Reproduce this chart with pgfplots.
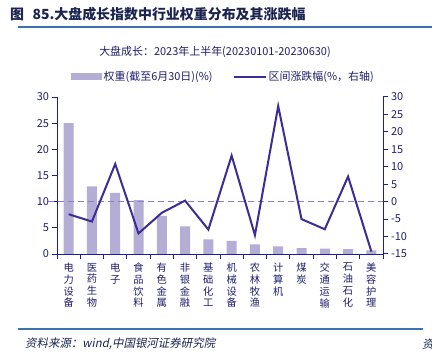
\documentclass[border=0pt]{standalone}
\usepackage{pgfplots}
\pgfplotsset{compat=1.18}
\usepackage{pgfplotstable}
\usepackage{fontspec}
\setmainfont{Noto Sans CJK SC}
\newfontfamily\srcfont[FakeSlant=0.2]{Noto Sans CJK SC}
\definecolor{barcol}{HTML}{B4ADD6}
\definecolor{linecol}{HTML}{3D2C96}
\definecolor{axiscol}{HTML}{1C1CA0}
\definecolor{labcol}{HTML}{1E1E6E}
\definecolor{dashcol}{HTML}{8A80C8}
\definecolor{rulecol}{HTML}{3A73AE}
\definecolor{titlecol}{HTML}{1B2350}
\pgfplotstableread{
x w r
0 25.0 -3.6
1 12.9 -5.7
2 11.7 10.8
3 10.3 -9.1
4 7.3 -3.2
5 5.3 0.3
6 2.8 -8.0
7 2.5 13.2
8 1.85 -9.6
9 1.45 27.4
10 1.1 -5.0
11 1.05 -7.9
12 0.95 7.2
13 0.7 -14.3
}\data
\begin{document}
\begin{tikzpicture}
\path[use as bounding box] (0bp,0bp) rectangle (432bp,356bp);
\node[anchor=west, font=\fontsize{14}{16}\selectfont\bfseries, text=titlecol, inner sep=0] at (10bp,342bp) {图\hspace{0.6em}85.大盘成长指数中行业权重分布及其涨跌幅};
\draw[rulecol, line width=1.5bp] (18bp,329bp) -- (432bp,329bp);
\node[font=\fontsize{11}{13}\selectfont, text=labcol, inner sep=0] at (215bp,304bp) {大盘成长：2023年上半年(20230101-20230630)};
\begin{axis}[
  at={(57bp,102bp)}, anchor=south west,
  width=326bp, height=157bp, scale only axis,
  xmin=-0.5, xmax=13.5, ymin=0, ymax=30,
  axis x line*=bottom, axis y line*=left,
  axis line style={axiscol, line width=1bp},
  ytick={0,5,...,30},
  xtick={0,...,13},
  xticklabels={{电\\力\\设\\备},{医\\药\\生\\物},{电\\子},{食\\品\\饮\\料},{有\\色\\金\\属},{非\\银\\金\\融},{基\\础\\化\\工},{机\\械\\设\\备},{农\\林\\牧\\渔},{计\\算\\机},{煤\\炭},{交\\通\\运\\输},{石\\油\\石\\化},{美\\容\\护\\理}},
  xticklabel style={align=center, font=\fontsize{10.3}{11.8}\selectfont, text=labcol, anchor=north, yshift=-1bp},
  minor xtick={-0.5,0.5,...,13.5},
  major x tick style={draw=none},
  minor x tick style={draw=axiscol, line width=1bp},
  ytick style={draw=axiscol, line width=1bp},
  tick align=outside, major tick length=4.5bp, minor tick length=5bp,
  yticklabel style={font=\fontsize{11}{13}\selectfont, text=labcol},
  /pgf/number format/assume math mode=true,
  legend columns=2,
  legend style={at={(0.51,1.13)}, anchor=center, draw=none, fill=none,
    font=\fontsize{11}{13}\selectfont, text=labcol,
    /tikz/every even column/.append style={column sep=18bp}},
]
\addplot[ybar, bar width=10bp, fill=barcol, draw=none,
  legend image code/.code={\fill[barcol] (0bp,-3.5bp) rectangle (31bp,3.5bp);}]
  table[x=x,y=w]{\data};
\addlegendentry{权重(截至6月30日)(\%)}
\addlegendimage{linecol, line width=2bp, legend image code/.code={\draw (0bp,0bp) -- (32bp,0bp);}}
\addlegendentry{区间涨跌幅(\%，右轴)}
\end{axis}
\begin{axis}[
  at={(57bp,102bp)}, anchor=south west,
  width=326bp, height=157bp, scale only axis,
  xmin=-0.5, xmax=13.5, ymin=-15, ymax=30,
  axis y line*=right, axis x line=none,
  axis line style={axiscol, line width=1bp},
  ytick={-15,-10,...,30},
  ytick style={draw=axiscol, line width=1bp},
  tick align=outside, major tick length=4.5bp,
  yticklabel style={font=\fontsize{11}{13}\selectfont, text=labcol},
  /pgf/number format/assume math mode=true,
  clip=false,
]
\addplot[dashcol, line width=1bp, dash pattern=on 6bp off 4bp] coordinates {(-0.9,0) (13.5,0)};
\addplot[linecol, line width=2bp, mark=none, line join=miter] table[x=x,y=r]{\data};
\end{axis}
\draw[rulecol, line width=1.2bp] (18bp,27bp) -- (423bp,27bp);
\node[anchor=west, font=\fontsize{11.5}{13}\selectfont, text=titlecol, inner sep=0] at (25bp,12bp) {\srcfont 资料来源：wind,中国银河证券研究院};
\node[anchor=west, font=\fontsize{11.5}{13}\selectfont, text=titlecol, inner sep=0] at (422bp,12bp) {\srcfont 资};
\end{tikzpicture}
\end{document}
